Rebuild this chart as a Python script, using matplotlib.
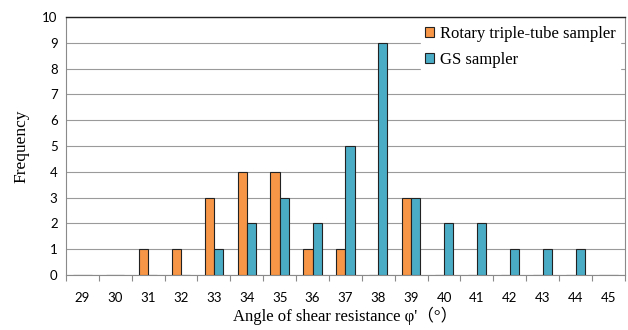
import numpy as np
import matplotlib
matplotlib.use('Agg')
import matplotlib.pyplot as plt
from matplotlib.ticker import FixedLocator, NullFormatter

# Données
angles = [29, 30, 31, 32, 33, 34, 35, 36, 37, 38, 39, 40, 41, 42, 43, 44, 45]
rotary = [0, 0, 1, 1, 3, 4, 4, 1, 1, 0, 3, 0, 0, 0, 0, 0, 0]
gs = [0, 0, 0, 0, 1, 2, 3, 2, 5, 9, 3, 2, 2, 1, 1, 1, 0]

orange = '#F79646'
blue = '#4BACC6'
serif = ['Liberation Serif', 'Noto Sans CJK JP']

fig = plt.figure(figsize=(6.28, 3.3), dpi=100)
ax = fig.add_axes([0.105, 0.167, 0.89, 0.781])

x = np.arange(len(angles))
w = 0.28
ax.bar(x - w / 2, rotary, width=w, color=orange, edgecolor='#222222', linewidth=0.8,
       label='Rotary triple-tube sampler', zorder=3)
ax.bar(x + w / 2, gs, width=w, color=blue, edgecolor='#222222', linewidth=0.8,
       label='GS sampler', zorder=3)

ax.set_xlim(-0.5, len(angles) - 0.5)
ax.set_ylim(0, 10)
ax.set_yticks(range(0, 11))
ax.yaxis.grid(True, color='#9a9a9a', linewidth=0.8, zorder=0)

# ticks aux limites des catégories, étiquettes au centre
ax.xaxis.set_major_locator(FixedLocator(x))
ax.set_xticklabels([str(a) for a in angles])
ax.xaxis.set_minor_locator(FixedLocator(np.arange(-0.5, len(angles), 1.0)))
ax.xaxis.set_minor_formatter(NullFormatter())
ax.tick_params(axis='x', which='major', length=0, pad=12, labelsize=9.5)
ax.tick_params(axis='x', which='minor', length=4, color='#8a8a8a', width=0.8)
ax.tick_params(axis='y', length=0, pad=6, labelsize=9.5)
for lab in ax.get_xticklabels() + ax.get_yticklabels():
    lab.set_family('Lato')

for side in ['left', 'bottom', 'right']:
    ax.spines[side].set_color('#8a8a8a')
    ax.spines[side].set_linewidth(0.8)
ax.spines['top'].set_color('#222222')
ax.spines['top'].set_linewidth(1.0)

ax.set_ylabel('Frequency', family=serif, fontsize=12.5, labelpad=9)
ax.set_xlabel("Angle of shear resistance φ'（°）", family=serif, fontsize=12, labelpad=2)

leg = ax.legend(loc='upper right', bbox_to_anchor=(1.006, 1.016), frameon=True,
                prop={'family': serif, 'size': 12}, handlelength=0.55, handleheight=0.55,
                handletextpad=0.35, labelspacing=0.62, borderpad=0.25, fancybox=False)
leg.get_frame().set_edgecolor('white')
leg.get_frame().set_facecolor('white')
leg.get_frame().set_alpha(1)
leg.set_zorder(5)

plt.savefig('out.png', dpi=100)
